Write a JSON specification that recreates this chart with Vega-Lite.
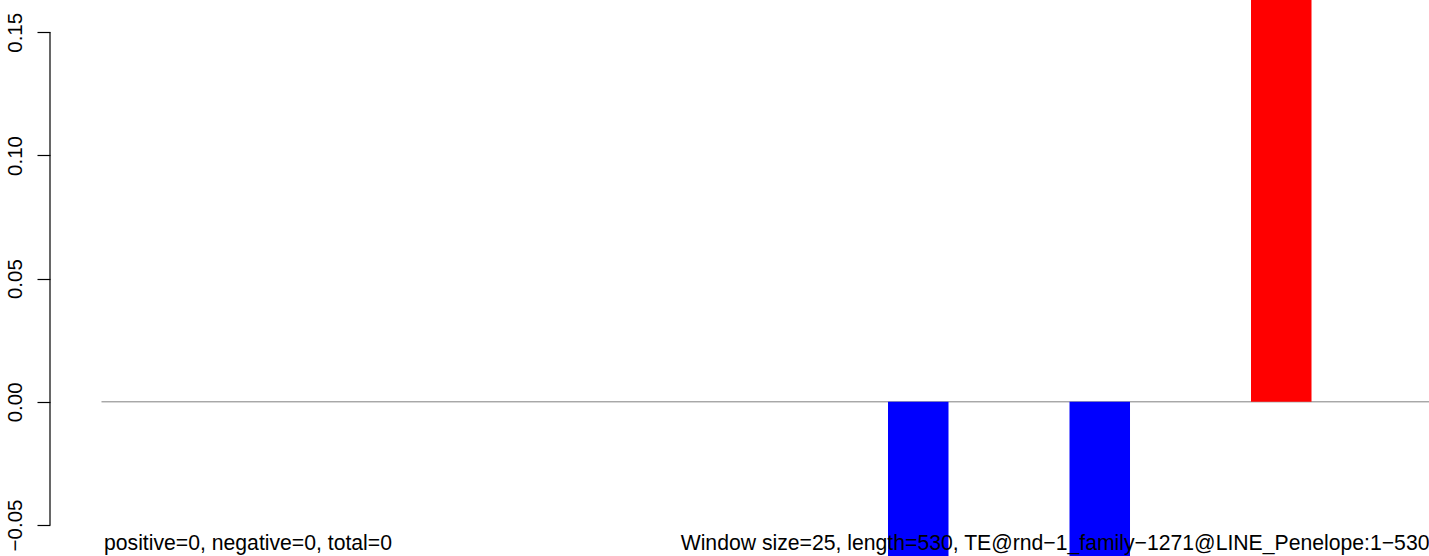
{
  "$schema": "https://vega.github.io/schema/vega-lite/v6.json",
  "width": 1379,
  "height": 556,
  "padding": {"left": 50, "top": 0, "right": 0, "bottom": 0},
  "autosize": {"type": "none"},
  "config": {"view": {"stroke": null}, "font": "Liberation Sans"},
  "datasets": {
    "bars": [
      {"start": 13, "end": 14, "value": -0.08, "sign": "negative"},
      {"start": 16, "end": 17, "value": -0.08, "sign": "negative"},
      {"start": 19, "end": 20, "value": 0.2, "sign": "positive"}
    ],
    "zero": [{"x": 0, "x2": 21.942, "y": 0}],
    "axisline": [{"x": -0.8512, "y": -0.05, "y2": 0.15}],
    "labels": [
      {"x": 0.041, "y": -0.06015, "label": "positive=0, negative=0, total=0"},
      {"x": 9.573, "y": -0.06015, "label": "Window size=25, length=530, TE@rnd−1_family−1271@LINE_Penelope:1−530"}
    ]
  },
  "layer": [
    {
      "data": {"name": "zero"},
      "mark": {"type": "rule", "color": "#808080", "strokeWidth": 1},
      "encoding": {
        "x": {"field": "x", "type": "quantitative", "scale": {"domain": [-0.8512, 21.942], "nice": false, "zero": false}, "axis": null},
        "x2": {"field": "x2"},
        "y": {"field": "y", "type": "quantitative", "scale": {"domain": [-0.062584, 0.16311], "nice": false, "zero": false},
          "axis": {"values": [-0.05, 0, 0.05, 0.1, 0.15], "format": ".2f", "labelAngle": -90, "labelFontSize": 20.5, "labelColor": "black", "labelFont": "Liberation Sans", "labelPadding": 12, "tickSize": 13, "tickColor": "black", "tickWidth": 1.2, "grid": false, "domain": false, "title": null}}
      }
    },
    {
      "data": {"name": "bars"},
      "mark": {"type": "bar", "clip": true},
      "encoding": {
        "x": {"field": "start", "type": "quantitative"},
        "x2": {"field": "end"},
        "y": {"field": "value", "type": "quantitative"},
        "y2": {"datum": 0},
        "color": {"field": "sign", "type": "nominal", "scale": {"domain": ["negative", "positive"], "range": ["#0000FF", "#FF0000"]}, "legend": null}
      }
    },
    {
      "data": {"name": "axisline"},
      "mark": {"type": "rule", "color": "black", "strokeWidth": 1.2},
      "encoding": {
        "x": {"field": "x", "type": "quantitative"},
        "y": {"field": "y", "type": "quantitative"},
        "y2": {"field": "y2"}
      }
    },
    {
      "data": {"name": "labels"},
      "mark": {"type": "text", "align": "left", "baseline": "alphabetic", "fontSize": 21.2, "color": "black", "font": "Liberation Sans"},
      "encoding": {
        "x": {"field": "x", "type": "quantitative"},
        "y": {"field": "y", "type": "quantitative"},
        "text": {"field": "label"}
      }
    }
  ]
}
